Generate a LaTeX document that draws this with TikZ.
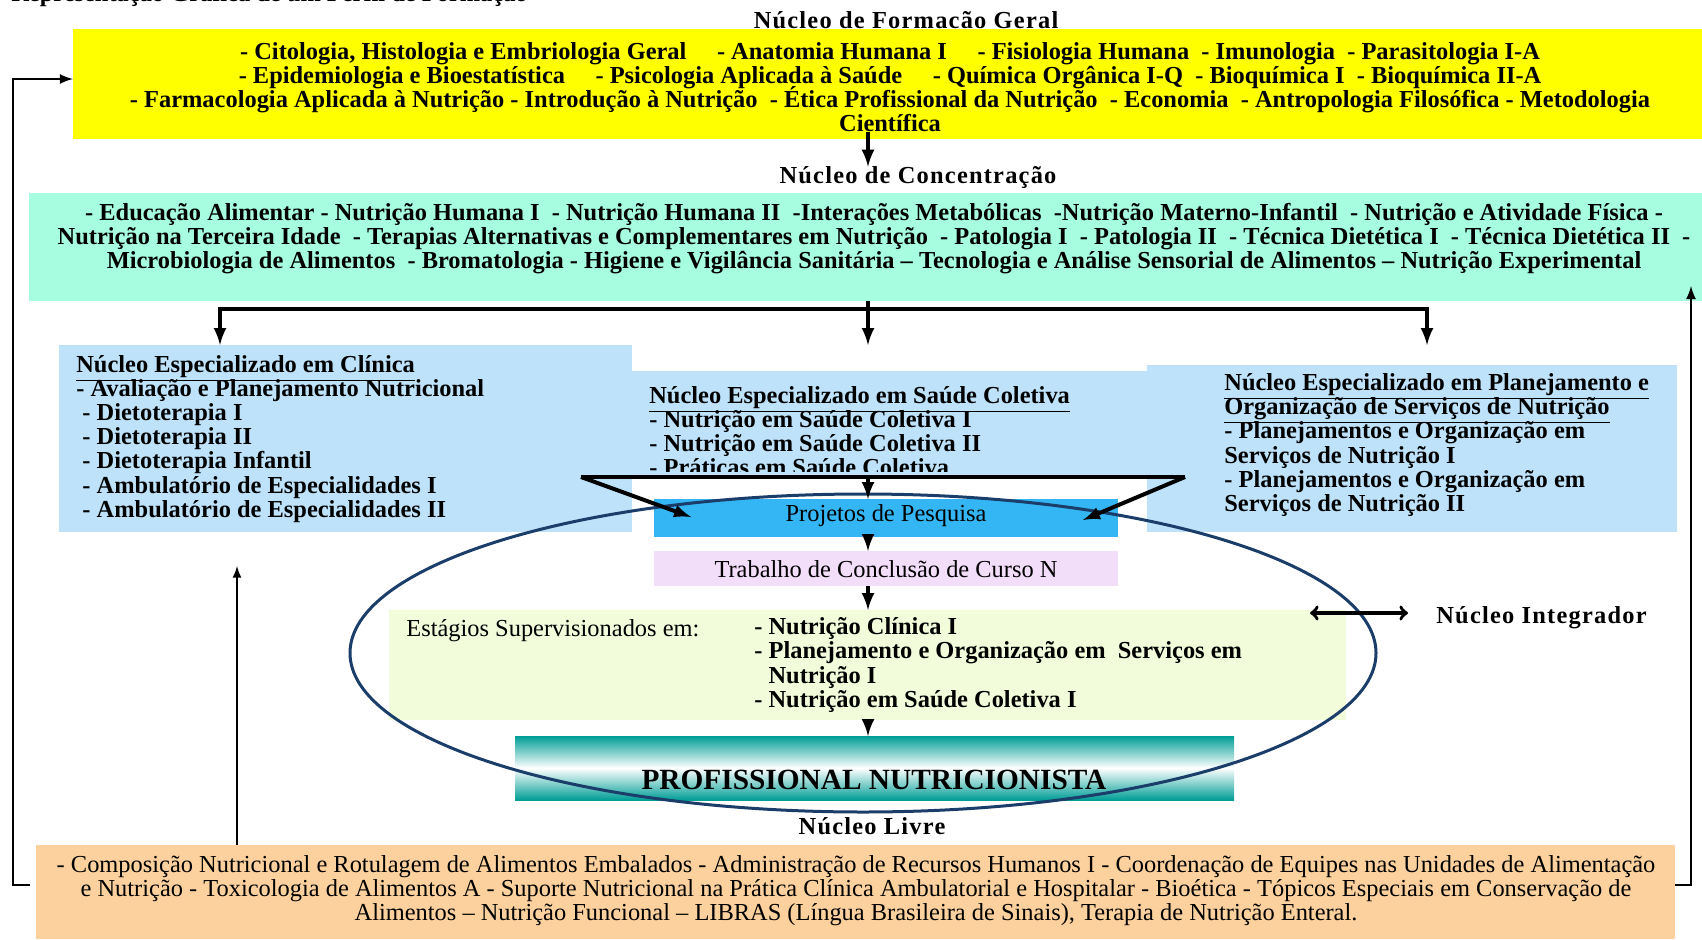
\documentclass[tikz,border=0pt]{standalone}
\usepackage{fontspec}
\setmainfont{Liberation Serif}
\newfontfamily\spacedfont[LetterSpace=5]{Liberation Serif}
\usetikzlibrary{arrows, positioning, fit}

\definecolor{geralyellow}{RGB}{255,255,0}
\definecolor{concaqua}{RGB}{166,253,224}
\definecolor{espblue}{RGB}{190,226,250}
\definecolor{pesqblue}{RGB}{52,182,245}
\definecolor{tccpink}{RGB}{243,222,250}
\definecolor{estgreen}{RGB}{242,252,219}
\definecolor{profteal}{RGB}{0,158,150}
\definecolor{livreorange}{RGB}{252,209,158}
\definecolor{ovalnavy}{RGB}{27,61,105}

\newcommand{\txtsize}{\fontsize{13.9}{13.7}\selectfont\lineskiplimit=-100pt}

\tikzset{
	zone/.style={inner sep=0pt, outer sep=0pt},
	bold text/.style={inner sep=0pt, font=\txtsize\bfseries},
	plain text/.style={inner sep=0pt, font=\txtsize},
	title text/.style={inner sep=0pt, font=\txtsize\spacedfont\bfseries},
	flow/.style={->, >=latex, line width=0.08cm},
	flowline/.style={line width=0.08cm},
	backflow/.style={->, >=latex, line width=0.055cm},
	integrarrow/.style={<->, >=to, line width=0.07cm}
}

\begin{document}
\begin{tikzpicture}[x=0.02cm, y=-0.02cm]
	\useasboundingbox (0,0) rectangle (1702,939);

	% coloured areas
	\node[zone, fill=geralyellow, fit={(73,29) (1702,139)}] (geral) {};
	\node[zone, fill=concaqua, fit={(29,193) (1702,301)}] (conc) {};
	\node[zone, fill=espblue, fit={(59,345) (632,532)}] (clinica) {};
	\node[zone, fill=espblue, fit={(632,371) (1147,477)}] (coletiva) {};
	\node[zone, fill=espblue, fit={(1147,365) (1677,532)}] (planej) {};
	\node[zone, fill=pesqblue, fit={(654,499) (1118,537)}] (pesquisa) {};
	\node[zone, fill=tccpink, fit={(654,551) (1118,586)}] (tcc) {};
	\node[zone, fill=estgreen, fit={(389,610) (1346,720)}] (estagios) {};
	\node[zone, top color=profteal, bottom color=profteal, middle color=white,
		fit={(515,736) (1234,800)}] (prof) {};
	\node[zone, fill=livreorange, fit={(36,845) (1675,939)}] (livre) {};

	% nucleo integrador
	\draw[
		color=ovalnavy,
		line width=0.06cm
	] (863,653) ellipse [x radius=513, y radius=159];

	% texts
	\node[bold text, anchor=base west] (perfil) at (11,2) {Representação Gráfica de um Perfil de Formação};
	\node[title text] (geraltit) at (906,20) {Núcleo de Formacão Geral};
	\node[bold text, align=center] (geraltxt) at (890,87) {%
		- Citologia, Histologia e Embriologia Geral \quad - Anatomia Humana I \quad - Fisiologia Humana \ - Imunologia \ - Parasitologia I-A\\
		- Epidemiologia e Bioestatística \quad - Psicologia Aplicada à Saúde \quad - Química Orgânica I-Q \ - Bioquímica I \ - Bioquímica II-A\\
		- Farmacologia Aplicada à Nutrição - Introdução à Nutrição \ - Ética Profissional da Nutrição \ - Economia \ - Antropologia Filosófica - Metodologia\\
		Científica};
	\node[title text] (conctit) at (918,178) {Núcleo de Concentração};
	\node[bold text, align=center] (conctxt) at (874,239) {%
		- Educação Alimentar - Nutrição Humana I \ - Nutrição Humana II \ -Interações Metabólicas \ -Nutrição Materno-Infantil \ - Nutrição e Atividade Física -\\
		Nutrição na Terceira Idade \ - Terapias Alternativas e Complementares em Nutrição \ - Patologia I \ - Patologia II \ - Técnica Dietética I \ - Técnica Dietética II \ -\\
		Microbiologia de Alimentos \ - Bromatologia - Higiene e Vigilância Sanitária -- Tecnologia e Análise Sensorial de Alimentos -- Nutrição Experimental};
	\node[bold text, align=left, anchor=west] (clinicatxt) at (76,439) {%
		\underline{Núcleo Especializado em Clínica}\\
		- Avaliação e Planejamento Nutricional\\
		\ - Dietoterapia I\\
		\ - Dietoterapia II\\
		\ - Dietoterapia Infantil\\
		\ - Ambulatório de Especialidades I\\
		\ - Ambulatório de Especialidades II};
	\begin{scope}
		\clip (632,371) rectangle (1147,471);
		\node[bold text, align=left, anchor=west] (coletivatxt) at (649,431) {%
			\underline{Núcleo Especializado em Saúde Coletiva}\\
			- Nutrição em Saúde Coletiva I\\
			- Nutrição em Saúde Coletiva II\\
			- Práticas em Saúde Coletiva};
	\end{scope}
	\node[bold text, align=left, anchor=west] (planejtxt) at (1224,445) {%
		\underline{Núcleo Especializado em Planejamento e}\\
		\underline{Organização de Serviços de Nutrição}\\
		- Planejamentos e Organização em\\
		Serviços de Nutrição I\\
		- Planejamentos e Organização em\\
		Serviços de Nutrição II};
	\node[plain text] (pesquisatxt) at (886,516) {Projetos de Pesquisa};
	\node[plain text] (tcctxt) at (886,569) {Trabalho de Conclusão de Curso N};
	\node[plain text, anchor=west] (estagiostit) at (406,631) {Estágios Supervisionados em:};
	\node[bold text, align=left, anchor=west] (estagiostxt) at (754,665) {%
		- Nutrição Clínica I\\
		- Planejamento e Organização em \ Serviços em\\
		\phantom{- }Nutrição I\\
		- Nutrição em Saúde Coletiva I};
	\node[inner sep=0pt, font=\fontsize{16.7}{16}\selectfont\bfseries] (proftxt) at (874,780) {PROFISSIONAL NUTRICIONISTA};
	\node[title text, anchor=west] (integr) at (1436,618) {Núcleo Integrador};
	\node[title text] (livretit) at (872,826) {Núcleo Livre};
	\node[plain text, align=center] (livretxt) at (856,891) {%
		- Composição Nutricional e Rotulagem de Alimentos Embalados - Administração de Recursos Humanos I - Coordenação de Equipes nas Unidades de Alimentação\\
		e Nutrição - Toxicologia de Alimentos A - Suporte Nutricional na Prática Clínica Ambulatorial e Hospitalar - Bioética - Tópicos Especiais em Conservação de\\
		Alimentos -- Nutrição Funcional -- LIBRAS (Língua Brasileira de Sinais), Terapia de Nutrição Enteral.};

	% connectors
	\coordinate (split) at (868,309);
	\coordinate (lefttip) at (220,345);
	\coordinate (righttip) at (1427,345);
	\coordinate (funL) at (581,477);
	\coordinate (funR) at (1185,477);
	\coordinate (pesqL) at (691,517);
	\coordinate (pesqR) at (1083,520);
	\coordinate (integrL) at (1310,613);
	\coordinate (geralin) at (73,79);
	\coordinate (loopL) at (30,885);
	\coordinate (loopR) at (1691,286);
	\coordinate (uptip) at (237,566);

	\draw[flow] (geraltxt.south -| split) -- (conctit.north -| split);
	\draw[flow] (split) -| (lefttip);
	\draw[flow] (split) -| (righttip);
	\draw[flow] (conc.south -| split) -- (split |- lefttip);
	\draw[flowline] (funL) -- (funR);
	\draw[flow] (funL) -- (pesqL);
	\draw[flow] (funR) -- (pesqR);
	\draw[flow] (coletiva.south -| split) -- (pesquisa.north -| split);
	\draw[flow] (pesquisa.south -| split) -- (tcc.north -| split);
	\draw[flow] (tcc.south -| split) -- (estagios.north -| split);
	\draw[flow] (estagios.south -| split) -- (prof.north -| split);
	\draw[integrarrow, shorten >=0.56cm] (integrL) -- (integrL -| integr.west);
	\draw[backflow] (loopL) -- ++(-17,0) |- (geralin);
	\draw[backflow] (livre.east |- loopL) -| (loopR);
	\draw[
		->,
		>=latex,
		line width=0.045cm
	] (livre.north -| uptip) -- (uptip);
\end{tikzpicture}
\end{document}
